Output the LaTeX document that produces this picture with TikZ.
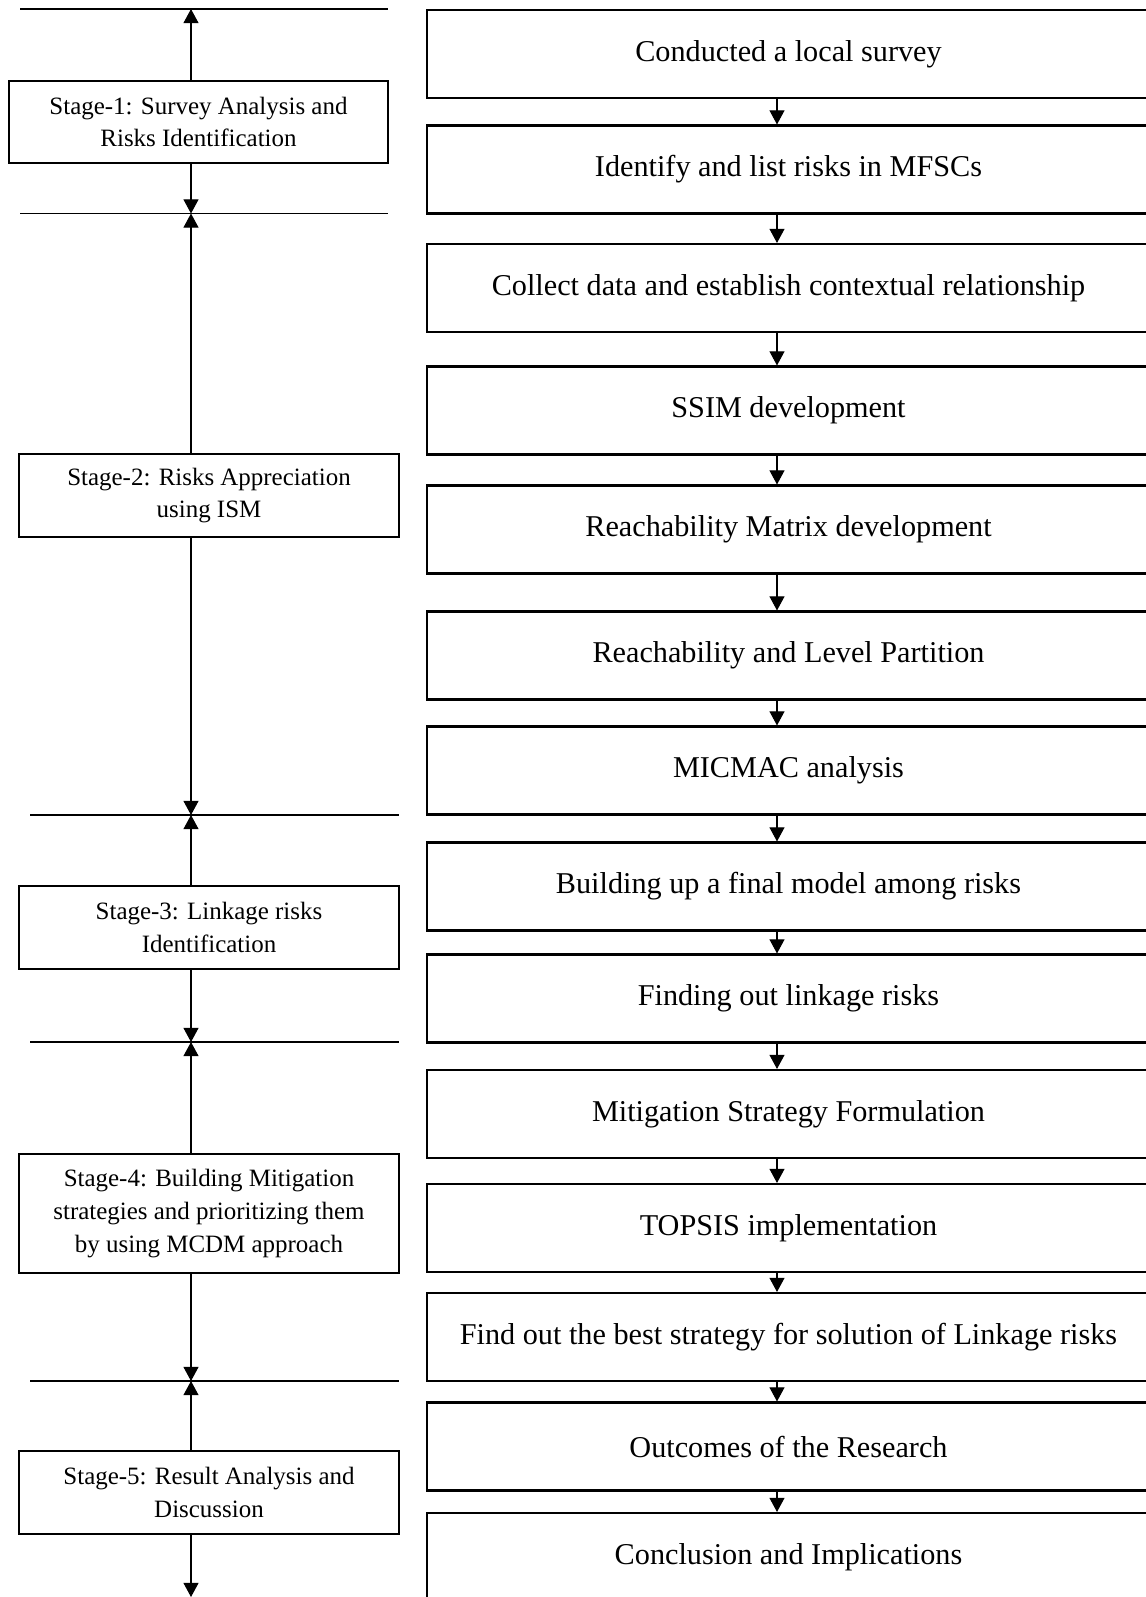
\documentclass[tikz,border=0pt]{standalone}
\usepackage{fontspec}
\setmainfont{Liberation Serif}
\usepackage{tikz}
\usetikzlibrary{arrows.meta, positioning}

\begin{document}
\begin{tikzpicture}[>={Triangle[length=8pt,width=8.5pt]},node distance=2.3cm,on grid,
	stepbox/.style={draw,line width=1.2pt,minimum width=14.46cm,minimum height=1.76cm,inner sep=0pt,font=\fontsize{17.2pt}{20pt}\selectfont},
	stagebox/.style={draw,line width=1.2pt,minimum width=7.6cm,minimum height=1.66cm,align=center,inner sep=0pt,font=\fontsize{14.2pt}{18.6pt}\selectfont}]
				\useasboundingbox (0,0) rectangle (22.92,-31.94);
				% right column
				\node[stepbox] (s1) at (15.77,-1.08) {Conducted a local survey};
				\node[stepbox] (s2) [below =2.31cm of s1] {Identify and list risks in MFSCs};
				\node[stepbox] (s3) [below =2.37cm of s2] {Collect data and establish contextual relationship};
				\node[stepbox] (s4) [below =2.45cm of s3] {SSIM development};
				\node[stepbox] (s5) [below =2.38cm of s4] {Reachability Matrix development};
				\node[stepbox] (s6) [below =2.52cm of s5] {Reachability and Level Partition};
				\node[stepbox] (s7) [below =2.30cm of s6] {MICMAC analysis};
				\node[stepbox] (s8) [below =2.32cm of s7] {Building up a final model among risks};
				\node[stepbox] (s9) [below =2.24cm of s8] {Finding out linkage risks};
				\node[stepbox] (s10) [below =2.31cm of s9] {Mitigation Strategy Formulation};
				\node[stepbox] (s11) [below =2.28cm of s10] {TOPSIS implementation};
				\node[stepbox] (s12) [below =2.18cm of s11] {Find out the best strategy for solution of Linkage risks};
				\node[stepbox] (s13) [below =2.19cm of s12] {Outcomes of the Research};
				\node[stepbox] (s14) [below =2.21cm of s13] {Conclusion and Implications};
				
				% left column
				\node[stagebox,minimum width=7.58cm,minimum height=1.64cm] (st1) at (3.97,-2.44) {Stage-1: Survey Analysis and\\Risks Identification};
				\node[stagebox] (st2) at (4.18,-9.91) {Stage-2: Risks Appreciation\\using ISM};
				\node[stagebox] (st3) at (4.18,-18.55) {Stage-3: Linkage risks\\Identification};
				\node[stagebox,minimum height=2.38cm] (st4) at (4.18,-24.27) {Stage-4: Building Mitigation\\strategies and prioritizing them\\by using MCDM approach};
				\node[stagebox] (st5) at (4.18,-29.85) {Stage-5: Result Analysis and\\Discussion};
				
				\coordinate (sep0) at (3.82,-0.18);
				\coordinate (sep1) at (3.82,-4.27);
				\coordinate (sep2) at (3.82,-16.30);
				\coordinate (sep3) at (3.82,-20.84);
				\coordinate (sep4) at (3.82,-27.62);
				\coordinate (bot) at (3.82,-31.94);
				
				\tikzset{sepline/.style={line width=0.6pt}}
				\tikzset{flow/.style={->,line width=0.6pt}}
				\draw[sepline] ([xshift=-3.42cm]sep0) -- ([xshift=3.94cm]sep0);
				\draw[sepline] ([xshift=-3.42cm]sep1) -- ([xshift=3.94cm]sep1);
				\draw[sepline] ([xshift=-3.22cm]sep2) -- ([xshift=4.16cm]sep2);
				\draw[sepline] ([xshift=-3.22cm]sep3) -- ([xshift=4.16cm]sep3);
				\draw[sepline] ([xshift=-3.22cm]sep4) -- ([xshift=4.16cm]sep4);
				
				\draw[flow] (st1.north -| sep0) -- (sep0);
				\draw[flow] (st1.south -| sep1) -- (sep1);
				\draw[flow] (st2.north -| sep1) -- (sep1);
				\draw[flow] (st2.south -| sep2) -- (sep2);
				\draw[flow] (st3.north -| sep2) -- (sep2);
				\draw[flow] (st3.south -| sep3) -- (sep3);
				\draw[flow] (st4.north -| sep3) -- (sep3);
				\draw[flow] (st4.south -| sep4) -- (sep4);
				\draw[flow] (st5.north -| sep4) -- (sep4);
				\draw[flow] (st5.south -| bot) -- (bot);
				
				\path ([xshift=-0.23cm]s1.south) edge [flow] ([xshift=-0.23cm]s2.north);
				\path ([xshift=-0.23cm]s2.south) edge [flow] ([xshift=-0.23cm]s3.north);
				\path ([xshift=-0.23cm]s3.south) edge [flow] ([xshift=-0.23cm]s4.north);
				\path ([xshift=-0.23cm]s4.south) edge [flow] ([xshift=-0.23cm]s5.north);
				\path ([xshift=-0.23cm]s5.south) edge [flow] ([xshift=-0.23cm]s6.north);
				\path ([xshift=-0.23cm]s6.south) edge [flow] ([xshift=-0.23cm]s7.north);
				\path ([xshift=-0.23cm]s7.south) edge [flow] ([xshift=-0.23cm]s8.north);
				\path ([xshift=-0.23cm]s8.south) edge [flow] ([xshift=-0.23cm]s9.north);
				\path ([xshift=-0.23cm]s9.south) edge [flow] ([xshift=-0.23cm]s10.north);
				\path ([xshift=-0.23cm]s10.south) edge [flow] ([xshift=-0.23cm]s11.north);
				\path ([xshift=-0.23cm]s11.south) edge [flow] ([xshift=-0.23cm]s12.north);
				\path ([xshift=-0.23cm]s12.south) edge [flow] ([xshift=-0.23cm]s13.north);
				\path ([xshift=-0.23cm]s13.south) edge [flow] ([xshift=-0.23cm]s14.north);
			\end{tikzpicture}
\end{document}
